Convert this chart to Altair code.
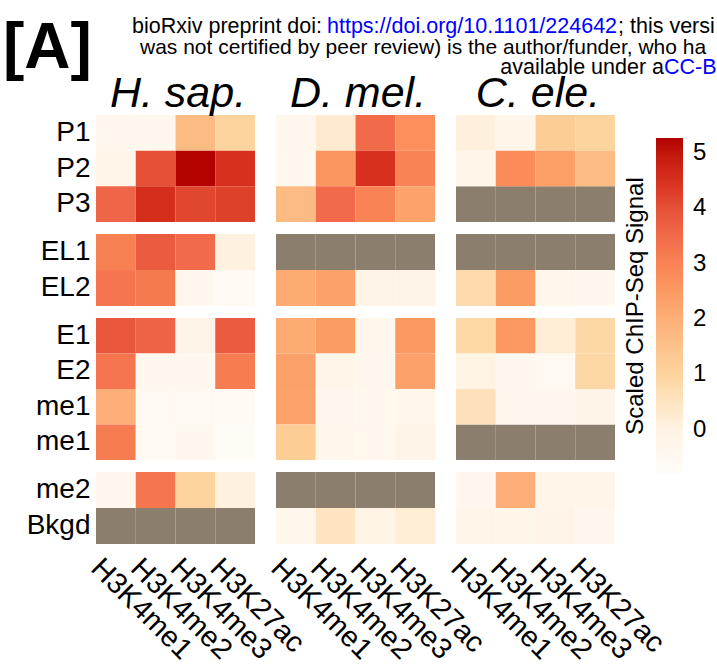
import altair as alt
import pandas as pd

# ---- data -----------------------------------------------------------------
MARKS = ["H3K4me1", "H3K4me2", "H3K4me3", "H3K27ac"]
SPECIES = ["H. sap.", "D. mel.", "C. ele."]
ROW_GROUPS = [
    ["P1", "P2", "P3"],
    ["EL1", "EL2"],
    ["E1", "E2", "me1", "me1"],
    ["me2", "Bkgd"],
]
NA = None  # no data for this element / species

# scaled ChIP-seq signal, one row per element, columns follow MARKS
H_SAP = [
    [-0.35, -0.4, 1.7, 1.0],
    [-0.2, 4.0, 5.25, 4.5],
    [3.6, 4.55, 4.15, 4.25],
    [3.05, 3.8, 3.5, 0.05],
    [3.3, 3.2, -0.4, -0.6],
    [3.85, 3.65, -0.1, 3.8],
    [3.3, -0.4, -0.4, 3.15],
    [2.0, -0.5, -0.55, -0.6],
    [3.15, -0.5, -0.45, -0.65],
    [-0.35, 3.3, 1.0, 0.05],
    [NA, NA, NA, NA],
]
D_MEL = [
    [-0.35, 0.3, 3.5, 2.75],
    [-0.45, 2.6, 4.5, 3.0],
    [1.7, 3.5, 3.0, 2.3],
    [NA, NA, NA, NA],
    [2.1, 2.35, -0.1, -0.1],
    [2.1, 2.45, -0.3, 2.55],
    [2.35, -0.25, -0.35, 2.35],
    [2.3, -0.35, -0.4, -0.3],
    [1.2, -0.3, -0.4, -0.1],
    [NA, NA, NA, NA],
    [-0.3, 0.5, -0.05, 0.2],
]
C_ELE = [
    [0.1, -0.15, 1.2, 1.0],
    [-0.15, 2.85, 2.4, 1.7],
    [NA, NA, NA, NA],
    [NA, NA, NA, NA],
    [0.8, 2.45, -0.3, -0.4],
    [0.85, 2.55, 0.2, 0.9],
    [0.0, -0.4, -0.5, 0.9],
    [0.6, -0.4, -0.45, -0.1],
    [NA, NA, NA, NA],
    [-0.4, 2.0, -0.2, -0.25],
    [-0.25, -0.25, -0.1, -0.35],
]
SERIES = {"H. sap.": H_SAP, "D. mel.": D_MEL, "C. ele.": C_ELE}

HEADER_LINE_1 = ["bioRxiv preprint doi:", "https://doi.org/10.1101/224642", "; this versio"]
HEADER_LINE_2 = "was not certified by peer review) is the author/funder, who ha"
HEADER_LINE_3 = ["available under a", "CC-B"]

# ---- styling --------------------------------------------------------------
FONT = "Liberation Sans"
NA_GREY = "#8b7e6c"
LINK_BLUE = "#0000ff"
COLOR_STOPS = [-0.78, 0.0, 1.0, 1.7, 2.8, 3.6, 4.5, 5.27]
COLOR_RANGE = ["#fffcf8", "#fff3e4", "#fdd49e", "#fdbb84",
               "#fc8d59", "#ef6548", "#d7301f", "#b30000"]
GROUP_HEIGHTS = [107, 72, 142, 72]
PANEL_WIDTH = 159
HEADER_SIZE = 21.5
CUT = "\u200b"  # zero-width marker used when a header line is cut at the edge

# ---- long table -----------------------------------------------------------
records = []
group_keys = []
k = 0
for gi, group in enumerate(ROW_GROUPS):
    keys = []
    for label in group:
        key = f"{label}|{k}"
        keys.append(key)
        for sp in SPECIES:
            for mi, mark in enumerate(MARKS):
                records.append({"species": sp, "group": gi, "row": key,
                                "mark": mark, "v": SERIES[sp][k][mi]})
        k += 1
    group_keys.append(keys)
df = pd.DataFrame(records)

color_enc = alt.Color(
    "v:Q",
    scale=alt.Scale(domain=COLOR_STOPS, range=COLOR_RANGE),
    legend=alt.Legend(
        title="Scaled ChIP-Seq Signal", orient="none", legendX=528, legendY=23,
        direction="vertical", gradientLength=335, gradientThickness=27,
        gradientStrokeWidth=0, titleOrient="left", titleAnchor="middle",
        titleFontSize=24, titleFontWeight="normal", titleColor="black",
        titlePadding=7, titleLimit=400, labelFontSize=24, labelColor="black",
        labelOffset=10, labelOverlap=False, values=[0, 1, 2, 3, 4, 5], padding=0,
    ),
)


def text_layer(text, x, y, size, weight="normal", style="normal",
               color="black", align="left", limit=None):
    opts = dict(align=align, baseline="alphabetic", fontSize=size,
                fontWeight=weight, fontStyle=style, color=color, font=FONT)
    if limit is not None:
        opts["limit"] = limit
        opts["ellipsis"] = CUT
    return alt.Chart(pd.DataFrame({"t": [text]})).mark_text(**opts).encode(
        text="t:N", x=alt.value(x), y=alt.value(y)
    )


def header_layers():
    # positions are relative to the top-left heatmap panel
    return [
        text_layer("[A]", -93, -47, 64, weight="bold"),
        text_layer(HEADER_LINE_1[0], 226, -82, HEADER_SIZE, align="right"),
        text_layer(HEADER_LINE_1[1], 231, -82, HEADER_SIZE, color=LINK_BLUE),
        text_layer(HEADER_LINE_1[2], 522, -82, HEADER_SIZE, limit=99),
        text_layer(HEADER_LINE_2, 44, -61.5, 21, limit=577),
        text_layer(HEADER_LINE_3[0], 568, -41, HEADER_SIZE, align="right"),
        text_layer(HEADER_LINE_3[1], 568, -41, HEADER_SIZE, color=LINK_BLUE, limit=53),
    ]


def cell(gi, si):
    sp = SPECIES[si]
    keys = group_keys[gi]
    sub = df[(df["group"] == gi) & (df["species"] == sp)]
    last_row = gi == len(ROW_GROUPS) - 1
    if last_row:
        x_axis = alt.Axis(title=None, labelAngle=45, labelAlign="left",
                          labelBaseline="top", labelFontSize=29, labelPadding=9,
                          labelOffset=-10, ticks=False, domain=False,
                          labelColor="black", labelOverlap=False)
    else:
        x_axis = None
    if si == 0:
        y_axis = alt.Axis(title=None, labelFontSize=28, labelPadding=6,
                          ticks=False, domain=False, labelColor="black",
                          labelOverlap=False,
                          labelExpr="split(datum.label, '|')[0]")
    else:
        y_axis = None
    base = alt.Chart(sub).encode(
        x=alt.X("mark:N", scale=alt.Scale(domain=MARKS, paddingInner=0, paddingOuter=0),
                axis=x_axis),
        y=alt.Y("row:N", scale=alt.Scale(domain=keys, paddingInner=0, paddingOuter=0),
                axis=y_axis),
    )
    missing = base.transform_filter("!isValid(datum.v)").mark_rect(color=NA_GREY)
    values = base.transform_filter("isValid(datum.v)").mark_rect().encode(color=color_enc)
    layers = [missing, values]
    if gi == 0:
        layers.append(text_layer(sp, 82, -8, 43, style="italic", align="center"))
        if si == 0:
            layers.extend(header_layers())
    return alt.layer(*layers).properties(width=PANEL_WIDTH, height=GROUP_HEIGHTS[gi])


cells = [cell(gi, si) for gi in range(len(ROW_GROUPS)) for si in range(len(SPECIES))]

chart = (
    alt.concat(*cells, columns=3, spacing={"row": 12, "column": 21},
               bounds="flush", align="each")
    .properties(padding={"left": 3, "top": 16, "right": 0, "bottom": 0})
    .configure(font=FONT)
    .configure_view(stroke=None)
)

chart.save("out.html", embed_options={"renderer": "svg", "actions": False})
